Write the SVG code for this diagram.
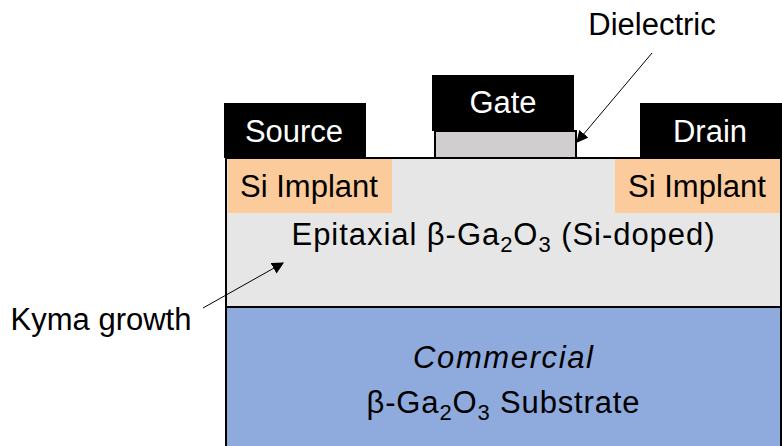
<svg xmlns="http://www.w3.org/2000/svg" width="782" height="446" viewBox="0 0 782 446">
<style>
text{font-family:"Liberation Sans",Arial,sans-serif;font-size:31px;fill:#000;text-anchor:middle}
.w{fill:#fff}
.metal{fill:#000}
.sub{font-size:22px}
.arr{stroke:#000;stroke-width:1;fill:none;marker-end:url(#ah)}
</style>
<defs>
<marker id="ah" viewBox="0 0 10 10" refX="9" refY="5" markerWidth="12" markerHeight="12" markerUnits="userSpaceOnUse" orient="auto">
<path d="M0,0 L10,5 L0,10 z" fill="#000"/>
</marker>
</defs>
<g id="substrate">
<rect x="226" y="307" width="555" height="140" fill="#8faadc" stroke="#000" stroke-width="2"/>
<text x="503" y="368" font-style="italic" textLength="180" lengthAdjust="spacing">Commercial</text>
<text x="503" y="413" textLength="273" lengthAdjust="spacing">β-Ga<tspan class="sub" dy="7">2</tspan><tspan dy="-7">O</tspan><tspan class="sub" dy="7">3</tspan><tspan dy="-7"> Substrate</tspan></text>
</g>
<g id="epi">
<rect x="226" y="158" width="555" height="149" fill="#e6e6e6" stroke="#000" stroke-width="2"/>
<text x="503" y="245" textLength="423" lengthAdjust="spacing">Epitaxial β-Ga<tspan class="sub" dy="7">2</tspan><tspan dy="-7">O</tspan><tspan class="sub" dy="7">3</tspan><tspan dy="-7"> (Si-doped)</tspan></text>
</g>
<g id="implant-left">
<rect x="228" y="159" width="164" height="54" fill="#fbcb9b"/>
<text x="309" y="197">Si Implant</text>
</g>
<g id="implant-right">
<rect x="615" y="159" width="165" height="54" fill="#fbcb9b"/>
<text x="697" y="197">Si Implant</text>
</g>
<g id="source">
<rect x="224" y="103" width="142" height="55" class="metal"/>
<text x="294" y="142" class="w">Source</text>
</g>
<g id="drain">
<rect x="640" y="103" width="142" height="55" class="metal"/>
<text x="710" y="142" class="w">Drain</text>
</g>
<g id="dielectric">
<rect x="435" y="131" width="141" height="27" fill="#d0cece" stroke="#000" stroke-width="2"/>
</g>
<g id="gate">
<rect x="432" y="75" width="142" height="56" class="metal"/>
<text x="503" y="113" class="w">Gate</text>
</g>
<g id="label-dielectric">
<text x="652" y="35">Dielectric</text>
</g>
<g id="label-kyma">
<text x="101" y="330">Kyma growth</text>
</g>
<g id="connectors">
<line x1="652" y1="53" x2="577" y2="142" class="arr"/>
<line x1="203" y1="308" x2="283" y2="263" class="arr"/>
</g>
</svg>
